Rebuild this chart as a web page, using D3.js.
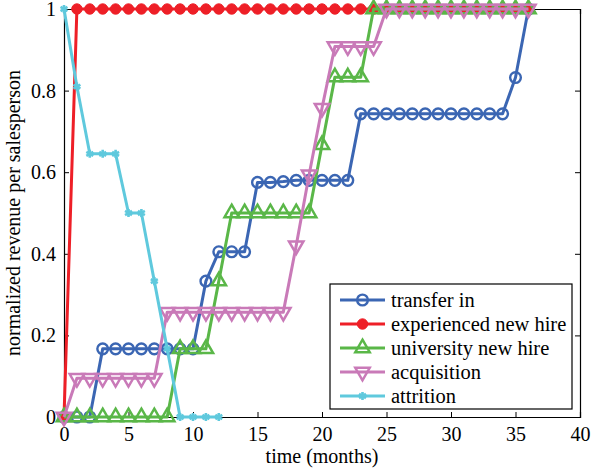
<!DOCTYPE html>
<html>
<head>
<meta charset="utf-8">
<script src="https://cdn.jsdelivr.net/npm/d3@7"></script>
<style>
  body { margin: 0; background: #fff; }
</style>
</head>
<body>
<div class="chart"></div>
<script>
// months on the x axis
var months = [0,1,2,3,4,5,6,7,8,9,10,11,12,13,14,15,16,17,18,19,20,21,22,23,24,25,26,27,28,29,30,31,32,33,34,35,36];

// series values
var transferIn = [0,0,0,0.167,0.167,0.167,0.167,0.167,0.167,0.167,0.167,0.333,0.405,0.405,0.405,
  0.575,0.575,0.577,0.58,0.58,0.58,0.58,0.58,0.743,0.743,0.743,0.743,0.743,0.743,0.743,0.743,
  0.743,0.743,0.743,0.743,0.832,1];
var experiencedHire = [0,1,1,1,1,1,1,1,1,1,1,1,1,1,1,1,1,1,1,1,1,1,1,1,1,1,1,1,1,1,1,1,1,1,1,1,1];
var universityHire = [0,0,0,0,0,0,0,0,0,0.167,0.167,0.167,0.333,0.5,0.5,0.5,0.5,0.5,0.5,0.5,
  0.667,0.833,0.833,0.833,1,1,1,1,1,1,1,1,1,1,1,1,1];
var acquisition = [0,0.095,0.095,0.095,0.095,0.095,0.095,0.095,0.257,0.257,0.257,0.257,0.257,
  0.257,0.257,0.257,0.257,0.257,0.42,0.594,0.757,0.908,0.908,0.908,0.908,1,1,1,1,1,1,1,1,1,1,1,1];
var attrition = [1,0.81,0.645,0.645,0.645,0.5,0.5,0.333,0.167,0,0,0,0];

var seriesNames = ["transfer in", "experienced new hire", "university new hire", "acquisition", "attrition"];
var xTicks = [0,5,10,15,20,25,30,35,40];
var yTicks = [0,0.2,0.4,0.6,0.8,1];

var colors = ["#3b66b3", "#ee1f27", "#5ab748", "#c97ab8", "#5fc9dd"];
var allValues = [transferIn, experiencedHire, universityHire, acquisition, attrition];

var fontFamily = "Liberation Serif";
var svgWidth = 592, svgHeight = 469;
var margin = {left: 64, top: 9, right: 12, bottom: 52};
var width = svgWidth - margin.left - margin.right;
var height = svgHeight - margin.top - margin.bottom;

var svg = d3.select(".chart").append("svg")
  .attr("width", svgWidth)
  .attr("height", svgHeight)
  .attr("font-family", fontFamily);

var g = svg.append("g")
  .attr("transform", `translate(${margin.left}, ${margin.top})`);

var xScale = d3.scaleLinear().domain([0, 40]).range([0, width]);
var yScale = d3.scaleLinear().domain([0, 1]).range([height, 0]);

// axes, ticks pointing inward like matlab
var bottomAxis = d3.axisBottom(xScale).tickValues(xTicks).tickSize(-5).tickPadding(10).tickFormat(d3.format("d"));
var leftAxis = d3.axisLeft(yScale).tickValues(yTicks).tickSize(-5).tickPadding(8).tickFormat(d => d === 0 || d === 1 ? d : d3.format(".1f")(d));
var topAxis = d3.axisTop(xScale).tickValues(xTicks).tickSize(-5).tickFormat("");
var rightAxis = d3.axisRight(yScale).tickValues(yTicks).tickSize(-5).tickFormat("");

function styleAxis(sel) {
  sel.attr("font-family", fontFamily).attr("font-size", 20);
  sel.selectAll("path").attr("stroke", "#000").attr("stroke-width", 1.2);
  sel.selectAll("line").attr("stroke", "#000").attr("stroke-width", 1);
  sel.selectAll("text").attr("font-family", fontFamily).attr("font-size", 20).attr("fill", "#000");
}

g.append("g").attr("transform", `translate(0,${height})`).call(bottomAxis).call(styleAxis)
  .selectAll("text").attr("dy", "0.71em");
g.append("g").call(leftAxis).call(styleAxis);
g.append("g").call(topAxis).call(styleAxis);
g.append("g").attr("transform", `translate(${width},0)`).call(rightAxis).call(styleAxis);

// axis labels
g.append("text")
  .attr("x", width / 2)
  .attr("y", height + 46)
  .attr("text-anchor", "middle")
  .attr("font-family", fontFamily)
  .attr("font-size", 20)
  .text("time (months)");

g.append("text")
  .attr("transform", `translate(${20 - margin.left}, ${213 - margin.top})rotate(-90)`)
  .attr("text-anchor", "middle")
  .attr("font-family", fontFamily)
  .attr("font-size", 20)
  .text("normalized revenue per salesperson");

// markers
var markerPaths = [
  d3.symbol().type(d3.symbolCircle).size(90)(),
  d3.symbol().type(d3.symbolCircle).size(85)(),
  d3.symbol().type(d3.symbolTriangle).size(90)(),
  d3.symbol().type(d3.symbolTriangle).size(90)(),
  d3.symbol().type(d3.symbolAsterisk || d3.symbolCross).size(45)()
];
var markerFill = ["none", colors[1], "none", "none", "none"];
var markerRotate = [0, 0, 0, 180, 0];
var markerStroke = [2.4, 1, 2.5, 2.5, 2.6];

function drawMarker(sel, i) {
  sel.attr("d", markerPaths[i])
    .attr("fill", markerFill[i])
    .attr("stroke", colors[i])
    .attr("stroke-width", markerStroke[i]);
}

var line = d3.line()
  .x(d => xScale(d.month))
  .y(d => yScale(d.value));

allValues.forEach(function(values, i) {
  var data = values.map((v, j) => ({month: months[j], value: v}));
  var sg = g.append("g").attr("class", "series");
  sg.append("path")
    .datum(data)
    .attr("d", line)
    .attr("fill", "none")
    .attr("stroke", colors[i])
    .attr("stroke-width", 3)
    .attr("stroke-linejoin", "round");
  sg.selectAll("path.marker")
    .data(data)
    .enter()
    .append("path")
    .attr("class", "marker")
    .attr("transform", d => `translate(${xScale(d.month)},${yScale(d.value)})rotate(${markerRotate[i]})`)
    .call(drawMarker, i);
});

// legend
var legend = g.append("g").attr("transform", `translate(${330 - margin.left}, ${284 - margin.top})`);
legend.append("rect")
  .attr("width", 242)
  .attr("height", 125)
  .attr("fill", "#fff")
  .attr("stroke", "#000")
  .attr("stroke-width", 1.2);

seriesNames.forEach(function(name, i) {
  var row = legend.append("g").attr("transform", `translate(0, ${16 + i * 24})`);
  row.append("line")
    .attr("x1", 10).attr("x2", 55)
    .attr("stroke", colors[i])
    .attr("stroke-width", 3);
  row.append("path")
    .attr("transform", `translate(32.5,0)rotate(${markerRotate[i]})`)
    .call(drawMarker, i);
  row.append("text")
    .attr("x", 61)
    .attr("y", 7)
    .attr("font-family", fontFamily)
    .attr("font-size", 20.5)
    .attr("fill", "#000")
    .text(name);
});
</script>
</body>
</html>
